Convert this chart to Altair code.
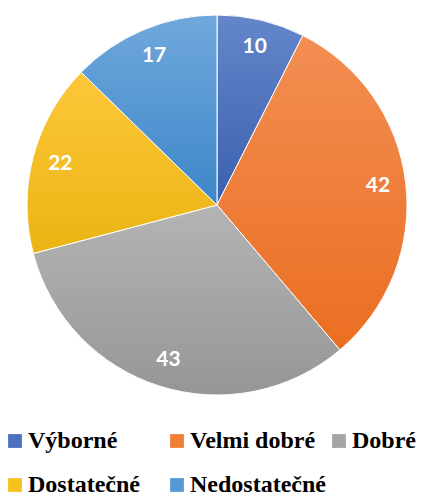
import altair as alt
import pandas as pd

categories = ["Výborné", "Velmi dobré", "Dobré", "Dostatečné", "Nedostatečné"]
values = [10, 42, 43, 22, 17]
colors = ["#4A70BF", "#F07E35", "#A5A5A5", "#F8C01A", "#5599D4"]
grad_top = ["#6486CB", "#F38E53", "#B4B4B4", "#FDC73A", "#6FA8DC"]
grad_bottom = ["#3A60AD", "#EB6E22", "#969696", "#EBB413", "#3D86C9"]

df = pd.DataFrame({"cat": categories, "val": values, "idx": list(range(len(values)))})

CX, CY, R = 209, 197, 190

base = alt.Chart(df).encode(
    theta=alt.Theta("val:Q", stack=True),
    order=alt.Order("idx:Q", sort="ascending"),
    x=alt.value(CX),
    y=alt.value(CY),
)

pie = base.mark_arc(outerRadius=R, stroke="white", strokeWidth=1).encode(
    color=alt.Color(
        "cat:N",
        scale=alt.Scale(domain=categories, range=colors),
        sort=categories,
        legend=alt.Legend(
            title=None,
            orient="none",
            legendX=-5,
            legendY=421,
            direction="horizontal",
            columns=3,
            gridAlign="all",
            columnPadding=1,
            rowPadding=20,
            symbolType="square",
            symbolSize=190,
            symbolStrokeWidth=0,
            labelOffset=1,
            labelFont="Times New Roman",
            labelFontWeight="bold",
            labelFontSize=24,
            labelColor="black",
            labelLimit=300,
            padding=0,
        ),
    )
)

layers = [pie]
for i, c in enumerate(categories):
    g = alt.LinearGradient(
        gradient="linear",
        stops=[alt.GradientStop(color=grad_top[i], offset=0),
               alt.GradientStop(color=grad_bottom[i], offset=1)],
        x1=0, x2=0, y1=0, y2=1,
    )
    layers.append(
        base.mark_arc(outerRadius=R, fill=g, stroke="white", strokeWidth=1).encode(
            opacity=alt.condition(alt.datum.cat == c, alt.value(1), alt.value(0))
        )
    )

labels = base.mark_text(
    radius=162, font="Lato", fontWeight="bold", fontSize=21, color="white"
).encode(text=alt.Text("val:Q"))
layers.append(labels)

chart = alt.layer(*layers).properties(
    width=408, height=488, padding=0, autosize=alt.AutoSizeParams(type="none")
).configure_view(stroke=None)

chart.save("out.html", embed_options={"renderer": "svg", "actions": False})
